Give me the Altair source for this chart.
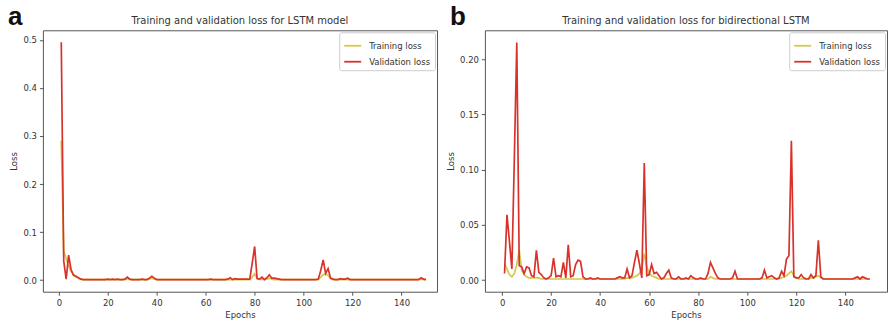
import altair as alt
import pandas as pd

epochs = list(range(1, 151))

lstm_train = [
    0.290, 0.060, 0.045, 0.030, 0.018, 0.012, 0.007, 0.004, 0.002, 0.001,
    0.001, 0.001, 0.001, 0.001, 0.001, 0.001, 0.001, 0.001, 0.001, 0.001,
    0.001, 0.001, 0.001, 0.001, 0.001, 0.001, 0.001, 0.003, 0.001, 0.001,
    0.001, 0.001, 0.001, 0.001, 0.001, 0.001, 0.002, 0.004, 0.002, 0.001,
    0.001, 0.001, 0.001, 0.001, 0.001, 0.001, 0.001, 0.001, 0.001, 0.001,
    0.001, 0.001, 0.001, 0.001, 0.001, 0.001, 0.001, 0.001, 0.001, 0.001,
    0.001, 0.001, 0.001, 0.001, 0.001, 0.001, 0.001, 0.001, 0.001, 0.001,
    0.001, 0.001, 0.001, 0.001, 0.001, 0.001, 0.001, 0.001, 0.006, 0.013,
    0.004, 0.001, 0.002, 0.001, 0.002, 0.004, 0.002, 0.001, 0.001, 0.001,
    0.001, 0.001, 0.001, 0.001, 0.001, 0.001, 0.001, 0.001, 0.001, 0.001,
    0.001, 0.001, 0.001, 0.001, 0.001, 0.001, 0.006, 0.011, 0.013, 0.010,
    0.003, 0.001, 0.001, 0.001, 0.001, 0.001, 0.001, 0.001, 0.001, 0.001,
    0.001, 0.001, 0.001, 0.001, 0.001, 0.001, 0.001, 0.001, 0.001, 0.001,
    0.001, 0.001, 0.001, 0.001, 0.001, 0.001, 0.001, 0.001, 0.001, 0.001,
    0.001, 0.001, 0.001, 0.001, 0.001, 0.001, 0.001, 0.002, 0.001, 0.001,
]

lstm_val = [
    0.495, 0.040, 0.002, 0.052, 0.022, 0.010, 0.008, 0.005, 0.002, 0.001,
    0.001, 0.001, 0.001, 0.001, 0.001, 0.001, 0.001, 0.001, 0.001, 0.002,
    0.001, 0.002, 0.001, 0.002, 0.001, 0.001, 0.002, 0.006, 0.002, 0.001,
    0.001, 0.001, 0.001, 0.002, 0.001, 0.001, 0.004, 0.008, 0.004, 0.001,
    0.001, 0.001, 0.001, 0.001, 0.001, 0.001, 0.001, 0.001, 0.001, 0.001,
    0.001, 0.001, 0.001, 0.001, 0.001, 0.001, 0.001, 0.001, 0.001, 0.001,
    0.001, 0.002, 0.001, 0.001, 0.001, 0.001, 0.001, 0.001, 0.002, 0.005,
    0.001, 0.003, 0.002, 0.002, 0.002, 0.002, 0.002, 0.002, 0.035, 0.070,
    0.003, 0.002, 0.006, 0.001, 0.005, 0.011, 0.004, 0.004, 0.003, 0.002,
    0.001, 0.001, 0.001, 0.001, 0.001, 0.001, 0.001, 0.001, 0.001, 0.001,
    0.001, 0.001, 0.001, 0.001, 0.001, 0.002, 0.020, 0.042, 0.014, 0.024,
    0.004, 0.002, 0.001, 0.001, 0.003, 0.002, 0.002, 0.004, 0.001, 0.001,
    0.001, 0.001, 0.001, 0.001, 0.001, 0.001, 0.001, 0.001, 0.001, 0.001,
    0.001, 0.001, 0.001, 0.001, 0.001, 0.001, 0.001, 0.001, 0.001, 0.001,
    0.001, 0.001, 0.001, 0.001, 0.001, 0.001, 0.001, 0.005, 0.002, 0.001,
]

bilstm_train = [
    0.015, 0.010, 0.005, 0.003, 0.006, 0.014, 0.027, 0.009, 0.005, 0.003,
    0.002, 0.002, 0.002, 0.002, 0.002, 0.001, 0.001, 0.001, 0.001, 0.001,
    0.001, 0.001, 0.001, 0.001, 0.001, 0.001, 0.001, 0.001, 0.001, 0.001,
    0.001, 0.001, 0.001, 0.001, 0.001, 0.001, 0.001, 0.001, 0.001, 0.001,
    0.001, 0.001, 0.001, 0.001, 0.001, 0.001, 0.001, 0.001, 0.001, 0.001,
    0.002, 0.002, 0.002, 0.003, 0.004, 0.006, 0.010, 0.024, 0.012, 0.006,
    0.004, 0.003, 0.002, 0.001, 0.001, 0.001, 0.001, 0.001, 0.001, 0.001,
    0.001, 0.001, 0.001, 0.001, 0.001, 0.001, 0.001, 0.001, 0.001, 0.001,
    0.001, 0.001, 0.001, 0.001, 0.003, 0.002, 0.001, 0.001, 0.001, 0.001,
    0.001, 0.001, 0.001, 0.001, 0.001, 0.001, 0.001, 0.001, 0.001, 0.001,
    0.001, 0.001, 0.001, 0.001, 0.001, 0.001, 0.001, 0.001, 0.001, 0.001,
    0.001, 0.001, 0.001, 0.002, 0.003, 0.004, 0.006, 0.008, 0.004, 0.002,
    0.001, 0.001, 0.001, 0.001, 0.001, 0.002, 0.002, 0.003, 0.004, 0.002,
    0.001, 0.001, 0.001, 0.001, 0.001, 0.001, 0.001, 0.001, 0.001, 0.001,
    0.001, 0.001, 0.001, 0.001, 0.001, 0.001, 0.001, 0.001, 0.001, 0.001,
]

bilstm_val = [
    0.006, 0.059, 0.035, 0.010, 0.110, 0.215, 0.013, 0.012, 0.006, 0.012,
    0.011, 0.004, 0.003, 0.027, 0.007, 0.005, 0.002, 0.001, 0.002, 0.004,
    0.020, 0.003, 0.004, 0.003, 0.016, 0.002, 0.032, 0.003, 0.004, 0.014,
    0.018, 0.017, 0.003, 0.001, 0.001, 0.002, 0.001, 0.001, 0.002, 0.001,
    0.001, 0.001, 0.001, 0.001, 0.001, 0.001, 0.002, 0.003, 0.002, 0.002,
    0.010, 0.002, 0.004, 0.016, 0.027, 0.015, 0.002, 0.106, 0.004, 0.005,
    0.014, 0.006, 0.007, 0.004, 0.001, 0.002, 0.006, 0.009, 0.002, 0.001,
    0.001, 0.003, 0.001, 0.001, 0.002, 0.001, 0.004, 0.002, 0.001, 0.001,
    0.002, 0.001, 0.001, 0.006, 0.016, 0.011, 0.006, 0.002, 0.001, 0.001,
    0.001, 0.001, 0.001, 0.002, 0.008, 0.001, 0.001, 0.001, 0.001, 0.001,
    0.001, 0.001, 0.001, 0.001, 0.001, 0.002, 0.009, 0.002, 0.003, 0.004,
    0.002, 0.001, 0.002, 0.008, 0.004, 0.019, 0.022, 0.126, 0.003, 0.002,
    0.002, 0.005, 0.002, 0.001, 0.001, 0.005, 0.002, 0.004, 0.036, 0.003,
    0.001, 0.001, 0.001, 0.001, 0.001, 0.001, 0.001, 0.001, 0.001, 0.001,
    0.001, 0.001, 0.001, 0.002, 0.003, 0.001, 0.003, 0.002, 0.001, 0.001,
]

series_names = ["Training loss", "Validation loss"]
series_colors = ["#d3c84c", "#d8322a"]
x_ticks = [0, 20, 40, 60, 80, 100, 120, 140]
lstm_y_ticks = [0.0, 0.1, 0.2, 0.3, 0.4, 0.5]
bilstm_y_ticks = [0.0, 0.05, 0.10, 0.15, 0.20]
titles = ["Training and validation loss for LSTM model",
          "Training and validation loss for bidirectional LSTM"]
letters = ["a", "b"]

FONT = "DejaVu Sans"


def long_df(train, val):
    return pd.DataFrame({
        "Epoch": epochs + epochs,
        "Loss": train + val,
        "Series": [series_names[0]] * len(train) + [series_names[1]] * len(val),
    })


def panel(df, title, letter, xdomain, ydomain, yticks, yfmt, w, h):
    lines = alt.Chart(df).mark_line(strokeWidth=1.7, clip=True).encode(
        x=alt.X("Epoch:Q",
                scale=alt.Scale(domain=xdomain, nice=False, zero=False),
                axis=alt.Axis(values=x_ticks, format="d", title="Epochs")),
        y=alt.Y("Loss:Q",
                scale=alt.Scale(domain=ydomain, nice=False, zero=False),
                axis=alt.Axis(values=yticks, format=yfmt, title="Loss")),
        color=alt.Color("Series:N",
                        scale=alt.Scale(domain=series_names, range=series_colors),
                        legend=alt.Legend(title=None, orient="top-right", offset=2,
                                          fillColor="white", strokeColor="#cccccc",
                                          cornerRadius=2, padding=4,
                                          labelFontSize=8.5, labelFont=FONT,
                                          labelColor="#333333",
                                          symbolType="stroke", symbolSize=289,
                                          symbolStrokeWidth=1.8, rowPadding=2,
                                          labelOffset=7)),
    )
    letter_mark = alt.Chart(pd.DataFrame({"label": [letter]})).mark_text(
        font="Liberation Sans", fontWeight="bold", fontSize=26,
        align="left", baseline="alphabetic", color="#111111",
    ).encode(x=alt.value(-35), y=alt.value(-5), text="label:N")
    title_mark = alt.Chart(pd.DataFrame({"label": [title]})).mark_text(
        font=FONT, fontSize=10, align="center", baseline="alphabetic",
        color="#333333",
    ).encode(x=alt.value(w / 2), y=alt.value(-6), text="label:N")
    return alt.layer(lines, letter_mark, title_mark).properties(width=w, height=h)


left = panel(long_df(lstm_train, lstm_val), titles[0], letters[0],
             [-6.5, 154.5], [-0.0242, 0.520], lstm_y_ticks, ".1f", 395, 262)
right = panel(long_df(bilstm_train, bilstm_val), titles[1], letters[1],
              [-7, 157], [-0.0105, 0.226], bilstm_y_ticks, ".2f", 403, 262)

chart = alt.hconcat(left, right, spacing=48, bounds="flush").resolve_scale(
    color="independent"
).properties(
    padding={"left": 7, "top": 3, "right": 1, "bottom": 2},
    background="white",
).configure_view(
    stroke="#555555", strokeWidth=1,
).configure_axis(
    domain=False, grid=False, tickColor="#555555", tickSize=3.5,
    labelFont=FONT, labelFontSize=8.5, labelColor="#333333", labelPadding=3,
    titleFont=FONT, titleFontSize=8.5, titleFontWeight="normal",
    titleColor="#333333", titlePadding=4,
)

chart.save("out.html", embed_options={"renderer": "svg", "actions": False})
